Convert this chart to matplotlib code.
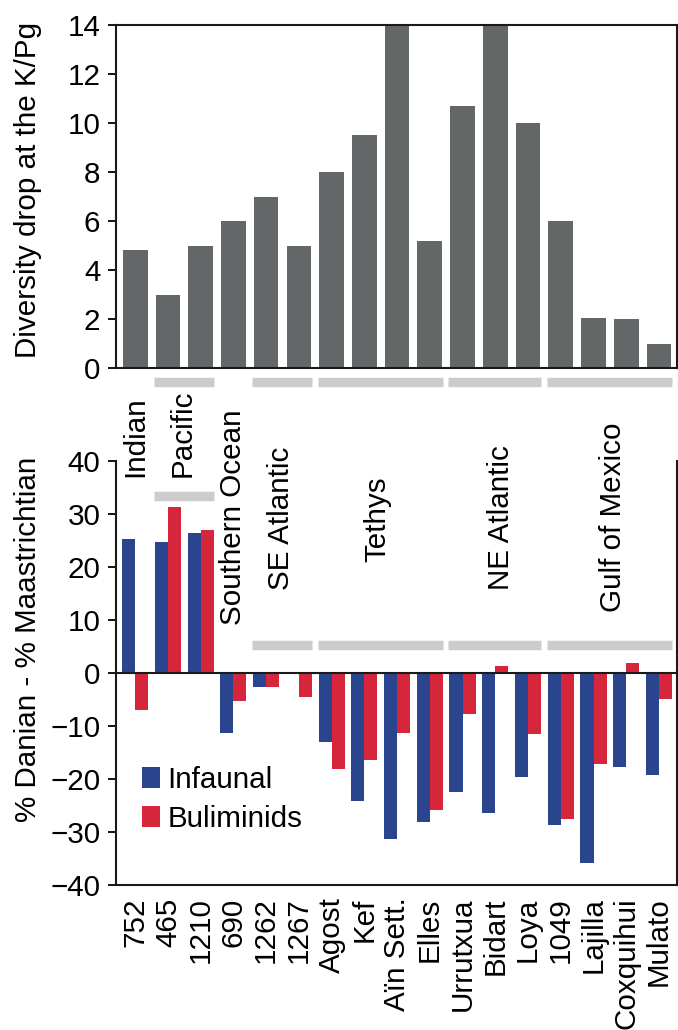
import matplotlib
matplotlib.use("Agg")
import matplotlib.pyplot as plt
import numpy as np

plt.rcParams['font.family'] = ['Liberation Sans', 'DejaVu Sans']

# --- data ---
sites = ["752", "465", "1210", "690", "1262", "1267", "Agost", "Kef",
         "Aïn Sett.", "Elles", "Urrutxua", "Bidart", "Loya", "1049",
         "Lajilla", "Coxquihui", "Mulato"]
diversity_drop = [4.8, 3.0, 5.0, 6.0, 7.0, 5.0, 8.0, 9.5, 14.0, 5.2,
                  10.7, 14.0, 10.0, 6.0, 2.05, 2.0, 1.0]
infaunal = [25.2, 24.6, 26.3, -11.4, -2.7, -0.3, -13.1, -24.1, -31.3, -28.1,
            -22.5, -26.4, -19.7, -28.6, -35.8, -17.7, -19.2]
buliminids = [-7.1, 31.2, 27.0, -5.4, -2.7, -4.5, -18.2, -16.5, -11.4, -25.8,
              -7.7, 1.2, -11.6, -27.5, -17.1, 1.8, -5.0]

regions = ["Indian", "Pacific", "Southern Ocean", "SE Atlantic", "Tethys",
           "NE Atlantic", "Gulf of Mexico"]
# first and last site index of each region
region_span = [(0, 0), (1, 2), (3, 3), (4, 5), (6, 9), (10, 12), (13, 16)]

# label placement (x in site units, y of text start in bottom-panel units)
region_label_x = [0.0, 1.46, 3.0, 4.46, 7.39, 11.17, 14.6]
region_label_y = [36.9, 36.9, 9.0, 15.6, 20.9, 15.6, 11.5]

BAR_GREY = "#636767"
BLUE = "#2A448E"
RED = "#D6263C"
LIGHT = "#CCCCCC"
FS = 21.3

fig = plt.figure(figsize=(6.78, 10.3), dpi=100)
ax1 = fig.add_axes([0.1704, 0.6427, 0.8281, 0.333])
ax2 = fig.add_axes([0.1704, 0.1408, 0.8281, 0.412])

x = np.arange(len(sites))

# --- top panel ---
ax1.bar(x, diversity_drop, width=0.755, color=BAR_GREY, zorder=2)
ax1.set_xlim(-0.6, 16.55)
ax1.set_ylim(0, 14)
ax1.set_yticks(range(0, 15, 2))
ax1.set_xticks([])
for s in ax1.spines.values():
    s.set_linewidth(1.5)
    s.set_color("#1a1a1a")
ax1.tick_params(axis='y', direction='out', length=6, width=1.3, pad=5,
                labelsize=FS)

# --- bottom panel ---
ax2.bar(x - 0.2, infaunal, width=0.4, color=BLUE, label="Infaunal", zorder=2)
ax2.bar(x + 0.2, buliminids, width=0.4, color=RED, label="Buliminids", zorder=2)
ax2.axhline(0, color="#1a1a1a", lw=1.5, zorder=3)
ax2.set_xlim(-0.6, 16.55)
ax2.set_ylim(-40, 40)
ax2.set_yticks(range(-40, 41, 10))
ax2.set_xticks(x)
ax2.set_xticklabels(sites, rotation=90, ha='center', va='top')
ax2.spines['top'].set_visible(False)
for s in ax2.spines.values():
    s.set_linewidth(1.5)
    s.set_color("#1a1a1a")
ax2.tick_params(axis='y', direction='out', length=6, width=1.3, pad=5,
                labelsize=FS)
ax2.tick_params(axis='x', length=0, pad=9, labelsize=FS)

# grey region bars, under the top panel and inside the bottom one
for (a, b) in region_span:
    if a == b:
        continue
    x0, x1 = a - 0.43, b + 0.41
    ax1.plot([x0, x1], [-0.59, -0.59], color=LIGHT, lw=6.8,
             solid_capstyle='butt', clip_on=False)
    y2 = 33.4 if a == 1 else 5.2
    ax2.plot([x0, x1], [y2, y2], color=LIGHT, lw=6.8,
             solid_capstyle='butt', clip_on=False, zorder=1)

for name, lx, ly in zip(regions, region_label_x, region_label_y):
    ax2.text(lx, ly, name, rotation=90, ha='center', va='bottom',
             fontsize=FS, clip_on=False)

ax2.legend(loc='upper left', bbox_to_anchor=(0.047, 0.28), frameon=False,
           fontsize=FS, handlelength=0.62, handleheight=0.72,
           handletextpad=0.25, labelspacing=0.35, borderpad=0,
           borderaxespad=0)

fig.text(0.0413, 0.8155, "Diversity drop at the K/Pg", rotation=90,
         ha='center', va='center', fontsize=FS)
fig.text(0.0413, 0.379, "% Danian - % Maastrichtian", rotation=90,
         ha='center', va='center', fontsize=FS)

fig.savefig("out.png", dpi=100)
